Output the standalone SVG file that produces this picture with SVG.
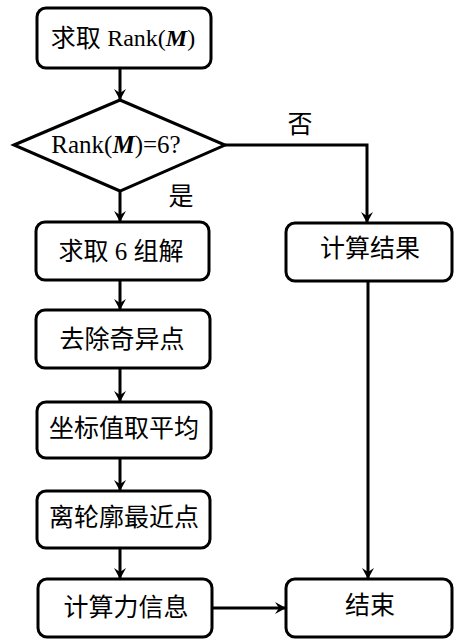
<svg xmlns="http://www.w3.org/2000/svg" width="454" height="641" viewBox="0 0 454 641">
<style>
.box{fill:#fff;stroke:#000;stroke-width:3}
.t{font-family:"Liberation Serif","Noto Sans CJK SC",serif;font-size:25px;fill:#000;text-anchor:middle;dominant-baseline:central}
.c{fill:none;stroke:#000;stroke-width:3}
</style>
<defs>
<marker id="ah" markerWidth="12" markerHeight="12" refX="10" refY="6" orient="auto" markerUnits="userSpaceOnUse">
<path d="M0,0 L11,6 L0,12 L4,6 Z" fill="#000"/>
</marker>
</defs>
<rect width="454" height="641" fill="#fff"/>
<g id="connectors">
<line class="c" x1="120" y1="68" x2="120" y2="99" marker-end="url(#ah)"/>
<polyline class="c" points="225,145 367,145 367,222" marker-end="url(#ah)"/>
<line class="c" x1="120" y1="191" x2="120" y2="221" marker-end="url(#ah)"/>
<line class="c" x1="120" y1="280" x2="120" y2="309" marker-end="url(#ah)"/>
<line class="c" x1="120" y1="368" x2="120" y2="401" marker-end="url(#ah)"/>
<line class="c" x1="120" y1="458" x2="120" y2="490" marker-end="url(#ah)"/>
<line class="c" x1="120" y1="548" x2="120" y2="578" marker-end="url(#ah)"/>
<line class="c" x1="368" y1="281" x2="368" y2="578" marker-end="url(#ah)"/>
<line class="c" x1="212" y1="608" x2="285" y2="608" marker-end="url(#ah)"/>
<text class="t" x="300" y="124" font-size="22">否</text>
<text class="t" x="181" y="196" font-size="22">是</text>
</g>
<g id="n1"><rect class="box" x="37" y="8" width="174" height="60" rx="9"/><text class="t" x="123" y="38">求取 <tspan font-size="24">Rank(<tspan font-style="italic" font-weight="bold">M</tspan>)</tspan></text></g>
<g id="n2"><polygon class="box" points="14,145 120,100 225,145 120,191"/><text class="t" x="116" y="144" font-size="22">Rank(<tspan font-style="italic" font-weight="bold">M</tspan>)=6?</text></g>
<g id="n3"><rect class="box" x="36" y="222" width="173" height="58" rx="9"/><text class="t" x="121" y="251">求取 6 组解</text></g>
<g id="n4"><rect class="box" x="286" y="223" width="166" height="58" rx="9"/><text class="t" x="370" y="248">计算结果</text></g>
<g id="n5"><rect class="box" x="36" y="310" width="174" height="58" rx="9"/><text class="t" x="122" y="339">去除奇异点</text></g>
<g id="n6"><rect class="box" x="37" y="402" width="174" height="56" rx="9"/><text class="t" x="124" y="428">坐标值取平均</text></g>
<g id="n7"><rect class="box" x="37" y="491" width="173" height="57" rx="9"/><text class="t" x="124" y="517">离轮廓最近点</text></g>
<g id="n8"><rect class="box" x="38" y="579" width="174" height="58" rx="9"/><text class="t" x="126" y="607">计算力信息</text></g>
<g id="n9"><rect class="box" x="286" y="579" width="166" height="58" rx="9"/><text class="t" x="370" y="605">结束</text></g>
</svg>
